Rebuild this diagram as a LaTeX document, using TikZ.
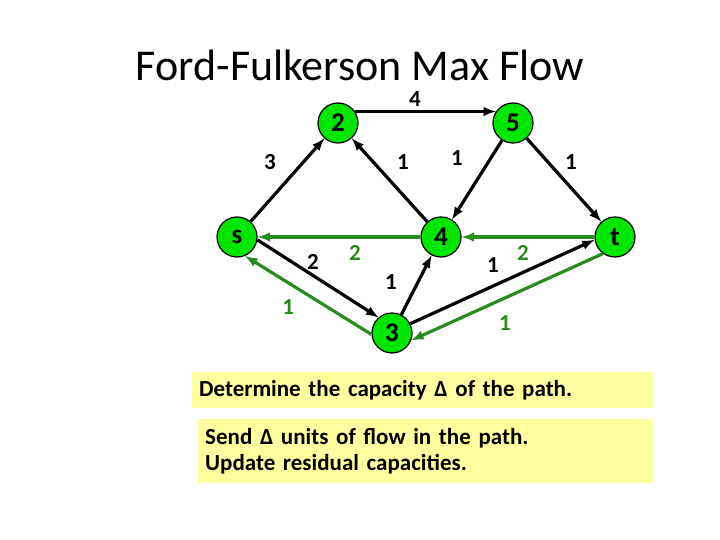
\documentclass[tikz,border=0pt]{standalone}
\usepackage{fontspec}
\setmainfont{Carlito}
\usepackage{amsmath,amssymb}
\usetikzlibrary{arrows}

\definecolor{vgreen}{RGB}{0,230,0}
\definecolor{fgreen}{RGB}{40,140,30}
\definecolor{note}{RGB}{255,255,160}

\begin{document}
\begin{tikzpicture}[x=1pt,y=-1pt,
  vert/.style={circle,draw=black,line width=1.2pt,fill=vgreen,minimum size=40pt,inner sep=0pt,font=\fontsize{27}{27}\selectfont\bfseries},
  resid/.style={black,-latex,line width=3.2pt},
  back/.style={fgreen,-latex,line width=3.2pt},
  lbl/.style={font=\fontsize{23}{23}\selectfont\bfseries,inner sep=0pt,midway},
  notebox/.style={fill=note,anchor=north west,align=left,font=\fontsize{23}{26}\selectfont\bfseries}]
 \useasboundingbox (0,0) rectangle (720,540);
 \node[anchor=base,inner sep=0pt] (title) at (360,81) {\fontsize{44}{44}\selectfont Ford-Fulkerson Max Flow};
 % vertices
 \node[vert] (s) at (237,237) {s};
 \node[vert] (c2) at (338,123) {2};
 \node[vert] (c5) at (513,123) {5};
 \node[vert] (c4) at (441,237) {4};
 \node[vert] (c3) at (392,333) {3};
 \node[vert] (t) at (615,237) {t};
 % residual edges
 \draw[resid] (c2.34)--(c5.146) node[lbl,xshift=-10.5pt,yshift=12pt] () {4};
 \draw[resid] (s)--(c2) node[lbl,xshift=-17.5pt,yshift=18pt] () {3};
 \draw[resid] (c4)--(c2) node[lbl,xshift=13.5pt,yshift=18pt] () {1};
 \draw[resid] (c5)--(c4) node[lbl,xshift=-20pt,yshift=22pt] () {1};
 \draw[resid] (c5)--(t) node[lbl,xshift=7pt,yshift=18pt] () {1};
 \draw[back] (c4)--(s) node[lbl,fgreen,xshift=16pt,yshift=-16pt] () {2};
 \draw[back] (t)--(c4) node[lbl,fgreen,xshift=-5pt,yshift=-16pt] () {2};
 \draw[resid] (s.-8)--(c3.131) node[lbl,xshift=-5pt,yshift=17pt] () {2};
 \draw[back] (c3.184)--(s.-67) node[lbl,fgreen,xshift=-20pt,yshift=-12pt] () {1};
 \draw[resid] (c3)--(c4) node[lbl,xshift=-25.5pt,yshift=3pt] () {1};
 \draw[resid] (c3.27)--(t.188) node[lbl,xshift=-9.5pt,yshift=17pt] () {1};
 \draw[back] (t.234)--(c3.-21) node[lbl,fgreen,xshift=-2pt,yshift=-26pt] () {1};
 % notes
 \node[notebox,minimum width=461pt,minimum height=36pt,text width=447pt] (step1) at (192,372) {Determine the capacity Δ of the path.};
 \node[notebox,minimum width=455pt,minimum height=64pt,text width=441pt] (step2) at (198,419) {Send Δ units of flow in the path.\\Update residual capacities.};
\end{tikzpicture}
\end{document}
